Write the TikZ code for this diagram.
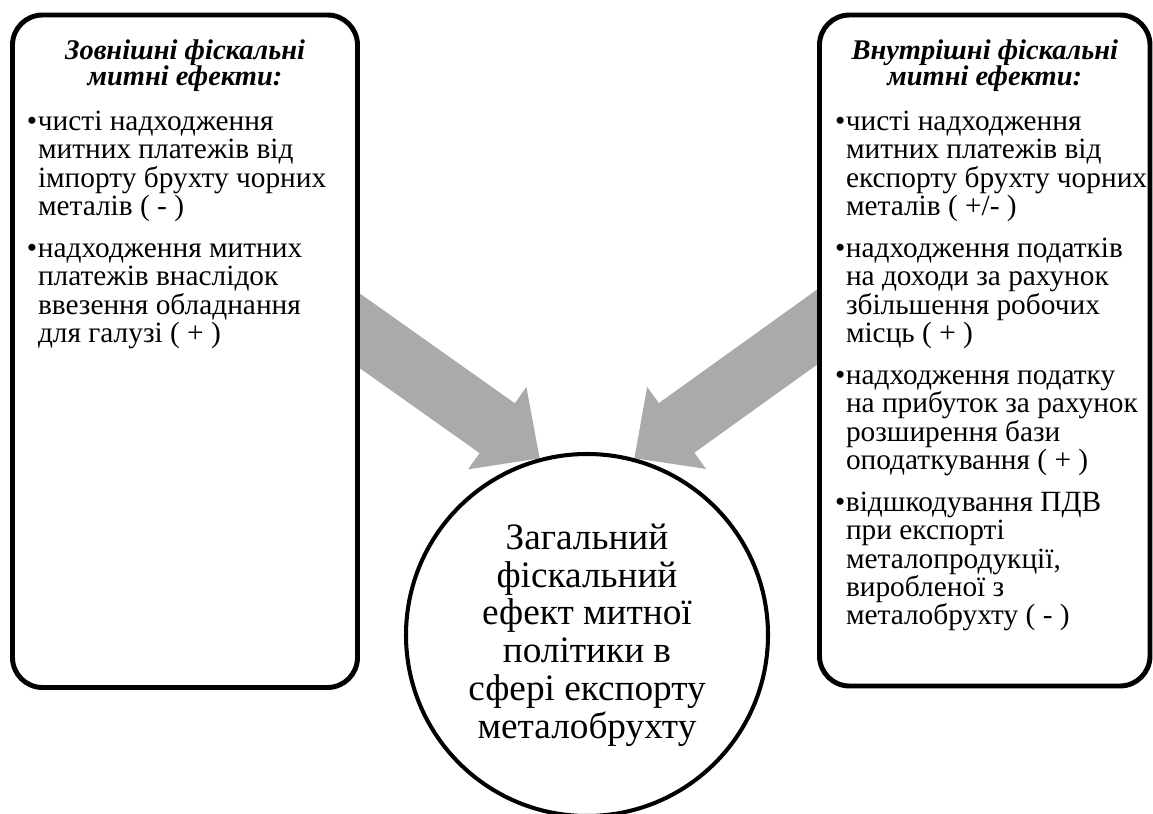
\documentclass[tikz,border=0pt]{standalone}
\usepackage{fontspec}
\setmainfont{Liberation Serif}
\usetikzlibrary{positioning,calc}
\definecolor{arrowgray}{RGB}{170,170,170}
\tikzstyle{effects} = [draw, rectangle, rounded corners=0.6cm, line width=2.8pt, fill=white, inner sep=0pt]
\tikzstyle{total} = [draw, circle, line width=2.3pt, fill=white, minimum size=7.24cm, inner sep=0pt, align=center, font=\fontsize{21.2}{21.5}\selectfont]
\tikzstyle{fatarrow} = [fill=arrowgray]
\pgfdeclarelayer{background}
\pgfsetlayers{background,main}
\hfuzz=30pt \hbadness=10000 \lineskiplimit=-20pt
\newcommand{\efftitle}[2]{{\centering\fontsize{16.2}{14.8}\selectfont\bfseries\itshape\rule{0pt}{0.88cm}#1\\#2\par}\vspace{0.35cm}}
\newcommand{\effbody}[1]{\fontsize{16.7}{16.07}\selectfont\parindent=0pt\rightskip=0pt plus 1fil\leftskip=#1}
\newcommand{\effitem}[1]{\hangindent=0.22cm\hangafter=1\noindent\makebox[0.22cm][l]{•}#1\par}

\begin{document}
\begin{tikzpicture}
    \useasboundingbox (0,0) rectangle (23.06,-16.28);

    % Place nodes
    \node [effects] (outer) at (3.70,-7.025) {\begin{minipage}[c][13.45cm][t]{6.9cm}
        \efftitle{Зовнішні фіскальні}{митні ефекти:}
        \effbody{0.29cm}
        \effitem{чисті~надходження\\митних~платежів~від\\імпорту~брухту~чорних\\металів~(~-~)}\vspace{0.28cm}
        \effitem{надходження~митних\\платежів~внаслідок\\ввезення~обладнання\\для~галузі~(~+~)}
    \end{minipage}};
    \node [effects] (inner) at (19.695,-7.01) {\begin{minipage}[c][13.42cm][t]{6.61cm}
        \efftitle{Внутрішні фіскальні}{митні ефекти:}
        \effbody{0.31cm}
        \effitem{чисті~надходження\\митних~платежів~від\\експорту~брухту~чорних\\металів~(~+/-~)}\vspace{0.28cm}
        \effitem{надходження~податків\\на~доходи~за~рахунок\\збільшення~робочих\\місць~(~+~)}\vspace{0.28cm}
        \effitem{надходження~податку\\на~прибуток~за~рахунок\\розширення~бази\\оподаткування~(~+~)}\vspace{0.28cm}
        \effitem{відшкодування~ПДВ\\при~експорті\\металопродукції,\\виробленої~з\\металобрухту~(~-~)}
    \end{minipage}};
    \node [total] (circ) at (11.74,-12.70) {Загальний\\фіскальний\\ефект митної\\політики в\\сфері експорту\\металобрухту};

    % Draw edges behind the boxes
    \begin{pgfonlayer}{background}
      % helper coordinates for the two fat arrows
      \coordinate (lfrom) at (6.0,-5.77);
      \coordinate (rfrom) at (17.5,-5.71);
      \coordinate (ltip) at (circ.105);
      \coordinate (rtip) at (circ.75);
      \coordinate (lback) at ($(ltip)!1.04cm!(lfrom)$);
      \coordinate (rback) at ($(rtip)!1.04cm!(rfrom)$);
      \path [fatarrow] (ltip) -- ($(lback)!1.01cm!90:(ltip)$) -- ($(lback)!0.61cm!90:(ltip)$)
        -- ($(lfrom)!0.61cm!90:(ltip)$) -- ($(lfrom)!0.61cm!-90:(ltip)$)
        -- ($(lback)!0.61cm!-90:(ltip)$) -- ($(lback)!1.01cm!-90:(ltip)$) -- cycle;
      \path [fatarrow] (rtip) -- ($(rback)!1.01cm!90:(rtip)$) -- ($(rback)!0.61cm!90:(rtip)$)
        -- ($(rfrom)!0.61cm!90:(rtip)$) -- ($(rfrom)!0.61cm!-90:(rtip)$)
        -- ($(rback)!0.61cm!-90:(rtip)$) -- ($(rback)!1.01cm!-90:(rtip)$) -- cycle;
    \end{pgfonlayer}
\end{tikzpicture}
\end{document}
